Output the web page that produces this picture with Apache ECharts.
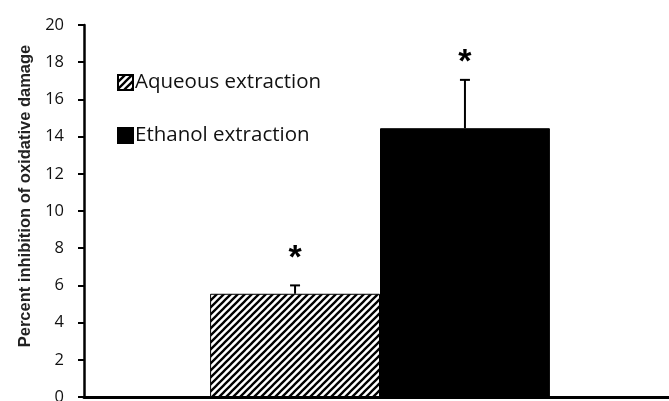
<!DOCTYPE html>
<html>
<head>
<meta charset="utf-8">
<script src="https://cdn.jsdelivr.net/npm/echarts@6/dist/echarts.min.js"></script>
<style>html,body{margin:0;padding:0;background:#fff}#c{width:669px;height:401px}</style>
</head>
<body>
<div id="c"></div>
<script>
var categories = [''];
var seriesNames = ['Aqueous extraction', 'Ethanol extraction'];
var aqueousValues = [5.55];
var ethanolValues = [14.45];
var aqueousErrors = [0.45];
var ethanolErrors = [2.6];
var starPositions = [7.85, 18.4];
var yTicks = [0, 2, 4, 6, 8, 10, 12, 14, 16, 18, 20];

function hatch() {
  var p = 7;
  var c = document.createElement('canvas');
  c.width = p; c.height = p;
  var g = c.getContext('2d');
  g.fillStyle = '#fff'; g.fillRect(0, 0, p, p);
  g.strokeStyle = '#000'; g.lineWidth = 2.3;
  g.beginPath();
  g.moveTo(0, p); g.lineTo(p, 0);
  g.moveTo(-2, 2); g.lineTo(2, -2);
  g.moveTo(p - 2, p + 2); g.lineTo(p + 2, p - 2);
  g.stroke();
  return c;
}
var hatchFill = { image: hatch(), repeat: 'repeat' };

var chart = echarts.init(document.getElementById('c'));
var gapPct = 0.426;
function errRender(seriesIdx, vals, errs) {
  return function (params, api) {
    var v = api.value(1);
    var e = errs[params.dataIndex];
    var base = api.coord([api.value(0), v]);
    var top = api.coord([api.value(0), v + e]);
    var cw = api.size([1, 0])[0];
    var bw = cw * (1 - gapPct) / 2;
    var x = base[0] + (seriesIdx === 0 ? -bw / 2 : bw / 2);
    return {
      type: 'group',
      children: [
        { type: 'line', shape: { x1: x, y1: base[1], x2: x, y2: top[1] }, style: { stroke: '#000', lineWidth: 2 } },
        { type: 'line', shape: { x1: x - 5, y1: top[1], x2: x + 5, y2: top[1] }, style: { stroke: '#000', lineWidth: 2 } }
      ]
    };
  };
}
function starRender(params, api) {
  var p = api.coord([api.value(0), api.value(1)]);
  var cw = api.size([1, 0])[0];
  var bw = cw * (1 - gapPct) / 2;
  var x = p[0] + (params.dataIndex === 0 ? -bw / 2 : bw / 2);
  return {
    type: 'text',
    style: { text: '*', x: x, y: p[1] + 8, align: 'center', verticalAlign: 'middle', font: 'bold 34px "Liberation Sans", Arial, sans-serif', fill: '#000' }
  };
}

chart.setOption({
  animation: false,
  backgroundColor: '#fff',
  grid: { left: 84, right: -7, top: 25, bottom: 4, containLabel: false, outerBoundsMode: 'none' },
  legend: {
    orient: 'vertical', left: 112, top: 67, itemGap: 32, itemWidth: 15, itemHeight: 15,
    icon: 'rect',
    textStyle: { fontSize: 20.5, color: '#111', fontFamily: 'Open Sans', padding: [0, 0, 0, -3] },
    data: seriesNames
  },
  xAxis: {
    type: 'category', data: categories,
    axisLine: { lineStyle: { color: '#000', width: 3 } },
    axisTick: { show: false }, axisLabel: { show: false }
  },
  yAxis: {
    type: 'value', min: 0, max: 20, interval: 2,
    name: 'Percent inhibition of oxidative damage', nameLocation: 'middle', nameGap: 50,
    nameTextStyle: { fontSize: 16.5, fontWeight: 'bold', color: '#222', fontFamily: 'Liberation Sans', padding: [0, 0, 0, 30] },
    axisLine: { show: true, lineStyle: { color: '#000', width: 2.5 } },
    axisTick: { show: true, length: 6, lineStyle: { color: '#000', width: 2 } },
    axisLabel: { fontSize: 16.5, color: '#111', fontFamily: 'Open Sans', margin: 20,
      formatter: function (v) { return yTicks.indexOf(v) >= 0 ? String(v) : ''; } },
    splitLine: { show: false }
  },
  series: [
    { name: seriesNames[0], type: 'bar', data: aqueousValues, barGap: '0%', barCategoryGap: (gapPct * 100) + '%',
      itemStyle: { color: hatchFill, borderColor: '#000', borderWidth: 1 } },
    { name: seriesNames[1], type: 'bar', data: ethanolValues,
      itemStyle: { color: '#000', borderColor: '#000', borderWidth: 1 } },
    { type: 'custom', renderItem: errRender(0, aqueousValues, aqueousErrors), data: [[0, aqueousValues[0]]], z: 5 },
    { type: 'custom', renderItem: errRender(1, ethanolValues, ethanolErrors), data: [[0, ethanolValues[0]]], z: 5 },
    { type: 'custom', renderItem: starRender, data: [[0, starPositions[0]], [0, starPositions[1]]], z: 6 }
  ]
});
</script>
</body>
</html>
